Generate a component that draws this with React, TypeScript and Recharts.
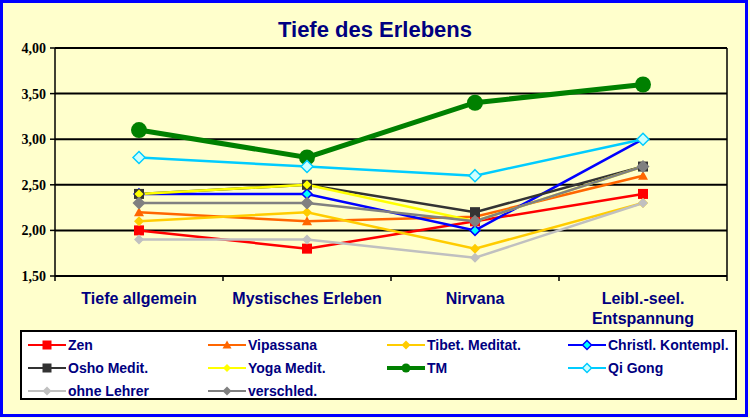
import { LineChart, Line, XAxis, YAxis, CartesianGrid, ReferenceLine } from 'recharts';

const CATEGORIES = ['Tiefe allgemein', 'Mystisches Erleben', 'Nirvana', 'Leibl.-seel.\nEntspannung'];
const Y_TICKS = [1.5, 2, 2.5, 3, 3.5, 4];
const X_TICKS = [-0.5, 0, 0.5, 1, 1.5, 2, 2.5, 3, 3.5];

const ZEN = [2.0, 1.8, 2.1, 2.4];
const VIPASSANA = [2.2, 2.1, 2.15, 2.6];
const TIBET = [2.1, 2.2, 1.8, 2.3];
const CHRISTL = [2.4, 2.4, 2.0, 3.0];
const OSHO = [2.4, 2.5, 2.2, 2.7];
const YOGA = [2.4, 2.5, 2.1, 2.7];
const TM = [3.1, 2.8, 3.4, 3.6];
const QIGONG = [2.8, 2.7, 2.6, 3.0];
const OHNE = [1.9, 1.9, 1.7, 2.3];
const VERSCHIED = [2.3, 2.3, 2.1, 2.7];

type Shape = 'square' | 'triangle' | 'diamond' | 'circle';

const SERIES: { key: string; name: string; values: number[]; color: string; fill: string; shape: Shape; size: number; width: number }[] = [
  { key: 'zen', name: 'Zen', values: ZEN, color: '#FF0000', fill: '#FF0000', shape: 'square', size: 5, width: 2.5 },
  { key: 'vip', name: 'Vipassana', values: VIPASSANA, color: '#FF6600', fill: '#FF6600', shape: 'triangle', size: 5, width: 2.5 },
  { key: 'tib', name: 'Tibet. Meditat.', values: TIBET, color: '#FFCC00', fill: '#FFCC00', shape: 'diamond', size: 5, width: 2.5 },
  { key: 'chr', name: 'Christl. Kontempl.', values: CHRISTL, color: '#0000FF', fill: '#00FFFF', shape: 'diamond', size: 5, width: 2.5 },
  { key: 'osh', name: 'Osho Medit.', values: OSHO, color: '#333333', fill: '#333333', shape: 'square', size: 5, width: 2.5 },
  { key: 'yog', name: 'Yoga Medit.', values: YOGA, color: '#FFFF00', fill: '#FFFF00', shape: 'diamond', size: 4.5, width: 2.5 },
  { key: 'tm', name: 'TM', values: TM, color: '#008000', fill: '#008000', shape: 'circle', size: 8, width: 5 },
  { key: 'qi', name: 'Qi Gong', values: QIGONG, color: '#00CCFF', fill: '#CCFFFF', shape: 'diamond', size: 6, width: 2.5 },
  { key: 'ohn', name: 'ohne Lehrer', values: OHNE, color: '#C0C0C0', fill: '#C0C0C0', shape: 'diamond', size: 5, width: 2.5 },
  { key: 'ver', name: 'verschled.', values: VERSCHIED, color: '#808080', fill: '#808080', shape: 'diamond', size: 6.5, width: 2.5 },
];

const data = CATEGORIES.map((c, i) => {
  const row: Record<string, number | string> = { x: i, cat: c };
  SERIES.forEach(s => { row[s.key] = s.values[i]; });
  return row;
});

const NAVY = '#000080';

function Marker({ shape, cx, cy, s, color, fill }: { shape: Shape; cx: number; cy: number; s: number; color: string; fill: string }) {
  if (shape === 'square') return <rect x={cx - s} y={cy - s} width={2 * s} height={2 * s} fill={fill} />;
  if (shape === 'circle') return <circle cx={cx} cy={cy} r={s} fill={fill} />;
  if (shape === 'triangle')
    return <polygon points={`${cx},${cy - s} ${cx + s},${cy + s * 0.8} ${cx - s},${cy + s * 0.8}`} fill={fill} />;
  return (
    <polygon
      points={`${cx},${cy - s} ${cx + s},${cy} ${cx},${cy + s} ${cx - s},${cy}`}
      fill={fill}
      stroke={color}
      strokeWidth={fill === color ? 0 : 1.5}
    />
  );
}

function XTick({ x, y, payload }: any) {
  const v = payload.value;
  if (Number.isInteger(v)) {
    const lines = CATEGORIES[v].split('\n');
    return (
      <text x={x} y={y} textAnchor="middle" fill={NAVY} fontFamily="Liberation Sans, Arial" fontWeight="bold" fontSize={16}>
        {lines.map((l, i) => (
          <tspan key={i} x={x} dy={i === 0 ? 28 : 20}>{l}</tspan>
        ))}
      </text>
    );
  }
  return <line x1={x} x2={x} y1={y} y2={y + 5} stroke="#000" strokeWidth={1.5} />;
}

function LegendBox() {
  return (
    <div
      style={{
        position: 'absolute', left: 20, top: 330, width: 717, height: 70, boxSizing: 'border-box',
        border: '2px solid #000', background: '#fff', display: 'grid',
        gridTemplateColumns: '180px 179px 181px 170px', gridAutoRows: '23px', paddingLeft: 6, paddingTop: 1,
      }}
    >
      {SERIES.map(s => (
        <div key={s.key} style={{ display: 'flex', alignItems: 'center' }}>
          <svg width={38} height={14} style={{ flex: 'none' }}>
            <line x1={0} x2={38} y1={7} y2={7} stroke={s.color} strokeWidth={s.key === 'tm' ? 4 : 2} />
            <Marker shape={s.shape} cx={19} cy={7} s={Math.min(s.size, 5) * 0.9} color={s.color} fill={s.fill} />
          </svg>
          <span style={{ marginLeft: 2, color: NAVY, fontFamily: 'Liberation Sans, Arial', fontWeight: 'bold', fontSize: 14, whiteSpace: 'nowrap' }}>
            {s.name}
          </span>
        </div>
      ))}
    </div>
  );
}

export default function App() {
  return (
    <div style={{ position: 'absolute', left: 0, top: 0, width: 750, height: 418, background: '#FFFFCC', overflow: 'hidden' }}>
      <div style={{ position: 'absolute', left: 0, top: 0, width: 748, height: 417, boxSizing: 'border-box', border: '3px solid #0000FF' }} />
      <div
        style={{
          position: 'absolute', left: 0, top: 17, width: 750, textAlign: 'center', color: NAVY,
          fontFamily: 'Liberation Sans, Arial', fontWeight: 'bold', fontSize: 22,
        }}
      >
        Tiefe des Erlebens
      </div>
      <div style={{ position: 'absolute', left: 0, top: 0 }}>
        <LineChart width={750} height={418} data={data} margin={{ top: 48, right: 23, left: 0, bottom: 92 }}>
          <CartesianGrid vertical={false} stroke="#000" strokeWidth={2} />
          <XAxis
            dataKey="x"
            type="number"
            domain={[-0.5, 3.5]}
            ticks={X_TICKS}
            interval={0}
            height={50}
            tickLine={false}
            tickSize={0}
            tickMargin={0}
            axisLine={{ stroke: '#000', strokeWidth: 1.5 }}
            tick={<XTick />}
          />
          <YAxis
            type="number"
            domain={[1.5, 4]}
            ticks={Y_TICKS}
            interval={0}
            width={55}
            tickSize={5}
            tickMargin={4}
            axisLine={{ stroke: '#000', strokeWidth: 1.5 }}
            tickLine={{ stroke: '#000', strokeWidth: 1.5 }}
            tickFormatter={(v: number) => v.toFixed(2).replace('.', ',')}
            tick={{ fill: '#000', fontFamily: 'Liberation Serif, Times New Roman', fontWeight: 'bold', fontSize: 14 }}
          />
          <ReferenceLine x={3.5} stroke="#000" strokeWidth={1.5} />
          {SERIES.map(s => (
            <Line
              key={s.key}
              dataKey={s.key}
              name={s.name}
              stroke={s.color}
              strokeWidth={s.width}
              isAnimationActive={false}
              activeDot={false}
              dot={(p: any) => (
                <Marker key={`${s.key}-${p.index}`} shape={s.shape} cx={p.cx} cy={p.cy} s={s.size} color={s.color} fill={s.fill} />
              )}
            />
          ))}
        </LineChart>
      </div>
      <LegendBox />
    </div>
  );
}
